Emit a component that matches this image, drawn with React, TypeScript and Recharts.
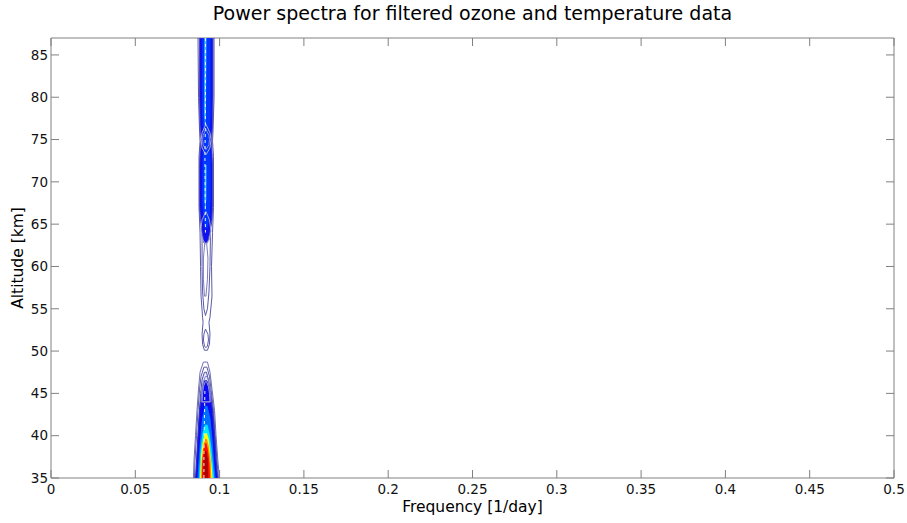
import React from 'react';
import { ScatterChart, Scatter, XAxis, YAxis, Curve } from 'recharts';

// Axis ticks
const xTicks = [0, 0.05, 0.1, 0.15, 0.2, 0.25, 0.3, 0.35, 0.4, 0.45, 0.5];
const yTicks = [35, 40, 45, 50, 55, 60, 65, 70, 75, 80, 85];
const xDomain = [0, 0.5];
const yDomain = [35, 87];

// Contour polygons: [frequency (1/day), altitude (km)]
const upperOutline = [
  [0.0872, 87], [0.0875, 80], [0.0881, 76], [0.0884, 74.8], [0.0878, 73], [0.0878, 67], [0.0884, 64],
  [0.0887, 60], [0.089, 56.5], [0.0899, 54], [0.0902, 53.4], [0.0896, 52], [0.0899, 50.8], [0.091, 50.1],
  [0.0928, 50.1], [0.094, 50.8], [0.0943, 52], [0.0937, 53.4], [0.0943, 54], [0.0955, 56.5], [0.0952, 60],
  [0.0958, 64], [0.0964, 67], [0.0964, 73], [0.0958, 74.8], [0.0961, 76], [0.0967, 80], [0.0967, 87],
];
const midOval = [
  [0.091, 65.5], [0.0896, 64], [0.0896, 60], [0.0899, 57], [0.0907, 55], [0.0916, 54.2], [0.0928, 55],
  [0.0937, 57], [0.0943, 60], [0.0946, 64], [0.0931, 65.5],
];
const innerMidOval = [
  [0.0913, 63], [0.0904, 61], [0.0904, 58.5], [0.091, 56.5], [0.0919, 56.5], [0.0928, 58.5],
  [0.0931, 61], [0.0922, 63],
];
const lowerOval = [
  [0.0916, 52.6], [0.0907, 52], [0.0904, 51.3], [0.091, 50.6], [0.0919, 50.4], [0.0928, 50.6],
  [0.0934, 51.3], [0.0931, 52],
];
const upperBlue = [
  [0.0881, 87], [0.0881, 80], [0.0884, 76.5], [0.089, 75], [0.0884, 73.5], [0.0881, 72], [0.0881, 67],
  [0.0887, 65.5], [0.0896, 64], [0.0907, 62.8], [0.0928, 62.8], [0.0943, 64], [0.0955, 65.5], [0.0958, 67],
  [0.0958, 72], [0.0955, 73.5], [0.0952, 75], [0.0958, 76.5], [0.0961, 80], [0.0961, 87],
];
const upperMidBlue = [
  [0.0896, 87], [0.0896, 78], [0.0902, 76], [0.0899, 72.5], [0.0896, 68], [0.0904, 65.5], [0.0913, 64.5],
  [0.0925, 64.5], [0.094, 65.5], [0.0946, 68], [0.0946, 72.5], [0.094, 76], [0.0946, 78], [0.0946, 87],
];
const upperCyanTop = [[0.091, 87], [0.0909, 78], [0.0913, 76.5], [0.0919, 78], [0.0922, 87]];
const upperCyanMid = [[0.0913, 72], [0.091, 68], [0.0915, 66.5], [0.0921, 68], [0.0922, 72]];
const neckRing1 = [
  [0.0919, 76.8], [0.0896, 75.8], [0.089, 75], [0.0896, 74], [0.0919, 73.2], [0.0943, 74], [0.0949, 75], [0.0943, 75.8],
];
const neckRing2 = [
  [0.0919, 76.2], [0.0902, 75.5], [0.0899, 75], [0.0902, 74.4], [0.0919, 73.8], [0.0937, 74.4], [0.094, 75], [0.0937, 75.5],
];
const baseRing = [
  [0.0919, 66.5], [0.0896, 65.5], [0.0887, 64.2], [0.0899, 63.2], [0.0919, 62.6], [0.094, 63.2], [0.0949, 64.2], [0.094, 65.5],
];
const ridgeUpper = [[0.0916, 87], [0.0916, 77], [0.0913, 73], [0.0916, 64]];

const bottomOutline1 = [
  [0.0904, 48.7], [0.0884, 47.5], [0.0875, 45.5], [0.0866, 43], [0.0857, 40], [0.0848, 37], [0.0845, 35],
  [0.0999, 35], [0.099, 37], [0.0979, 40], [0.097, 43], [0.0955, 45.5], [0.0943, 47.5], [0.0928, 48.7],
];
const bottomOutline2 = [
  [0.0907, 48.1], [0.089, 47], [0.0881, 45.5], [0.0872, 43], [0.0863, 40], [0.0854, 37], [0.0851, 35],
  [0.0993, 35], [0.0985, 37], [0.0973, 40], [0.0964, 43], [0.0949, 45.5], [0.094, 47], [0.0925, 48.1],
];
const bottomOutline3 = [
  [0.091, 47.5], [0.0896, 46.6], [0.0887, 45], [0.0878, 42], [0.0869, 39], [0.0863, 35],
  [0.0985, 35], [0.0976, 39], [0.0964, 42], [0.0946, 45], [0.0934, 46.6], [0.0922, 47.5],
];
const bottomBlue = [
  [0.091, 46.5], [0.0893, 45], [0.0881, 43], [0.0872, 40], [0.0863, 37], [0.0857, 35],
  [0.0988, 35], [0.0979, 37], [0.097, 40], [0.0958, 43], [0.0946, 45], [0.0925, 46.5],
];
const bottomRing4 = [
  [0.0916, 47], [0.0902, 46.3], [0.0893, 45.2], [0.089, 44], [0.0949, 44], [0.0946, 45.2], [0.0937, 46.3], [0.0925, 47],
];
const bottomRing5 = [
  [0.0916, 46.4], [0.0904, 45.8], [0.0899, 45], [0.0896, 44], [0.0943, 44], [0.094, 45], [0.0934, 45.8], [0.0922, 46.4],
];
const bottomLightBlue = [
  [0.0913, 43.5], [0.0896, 42], [0.0884, 39.5], [0.0875, 37], [0.0869, 35],
  [0.0976, 35], [0.0967, 37], [0.0958, 39.5], [0.0946, 42], [0.0928, 43.5],
];
const bottomCyan = [
  [0.0913, 41.3], [0.0899, 40.3], [0.0887, 38.5], [0.0881, 36.5], [0.0878, 35],
  [0.0967, 35], [0.0961, 36.5], [0.0952, 38.5], [0.094, 40.3], [0.0928, 41.3],
];
const bottomYellow = [
  [0.0913, 40.3], [0.0902, 39.5], [0.089, 37.8], [0.0886, 36], [0.0884, 35],
  [0.0958, 35], [0.0955, 36], [0.0946, 37.8], [0.0937, 39.5], [0.0925, 40.3],
];
const bottomOrange = [
  [0.0913, 39.6], [0.0904, 38.8], [0.0894, 37.2], [0.089, 35],
  [0.0951, 35], [0.0946, 37.2], [0.0935, 38.8], [0.0925, 39.6],
];
const bottomRed = [
  [0.0913, 39.1], [0.0904, 38.3], [0.0897, 36.8], [0.0896, 35],
  [0.0943, 35], [0.094, 36.8], [0.0931, 38.3], [0.0922, 39.1],
];
const bottomDarkRed = [
  [0.0913, 38.2], [0.0904, 37.2], [0.0904, 35], [0.0933, 35], [0.0931, 37.2], [0.0922, 38.2],
];
const ridgeLower = [[0.0907, 35], [0.0907, 38], [0.091, 42], [0.0913, 45.5]];

// Styles (kept apart from the data)
const layers = [
  { pts: upperOutline, fill: 'none', stroke: '#5a5aa8', sw: 1, closed: true },
  { pts: midOval, fill: 'none', stroke: '#5a5aa8', sw: 1, closed: true },
  { pts: innerMidOval, fill: 'none', stroke: '#7a7ac0', sw: 1, closed: true },
  { pts: lowerOval, fill: 'none', stroke: '#5a5aa8', sw: 1, closed: true },
  { pts: upperBlue, fill: '#1010f0', stroke: '#4848c0', sw: 1, closed: true },
  { pts: upperMidBlue, fill: '#0038ff', stroke: 'none', sw: 0, closed: true },
  { pts: upperCyanTop, fill: '#50c8ff', stroke: 'none', sw: 0, closed: true },
  { pts: upperCyanMid, fill: '#50c8ff', stroke: 'none', sw: 0, closed: true },
  { pts: neckRing1, fill: 'none', stroke: '#a8a8e0', sw: 1, closed: true },
  { pts: neckRing2, fill: 'none', stroke: '#8c8cd8', sw: 1, closed: true },
  { pts: baseRing, fill: 'none', stroke: '#a0a0dc', sw: 1, closed: true },
  { pts: ridgeUpper, fill: 'none', stroke: '#e8f4ff', sw: 1, closed: false, dash: '3 3' },
  { pts: bottomOutline1, fill: 'none', stroke: '#7070b8', sw: 1, closed: true },
  { pts: bottomOutline2, fill: 'none', stroke: '#5a5aa8', sw: 1, closed: true },
  { pts: bottomOutline3, fill: '#ececf8', stroke: '#4a4aa8', sw: 1, closed: true },
  { pts: bottomBlue, fill: '#0a0af5', stroke: '#3030c0', sw: 1, closed: true },
  { pts: bottomRing4, fill: 'none', stroke: '#8080cc', sw: 1, closed: true },
  { pts: bottomRing5, fill: 'none', stroke: '#9a9ad8', sw: 1, closed: true },
  { pts: bottomLightBlue, fill: '#0070ff', stroke: 'none', sw: 0, closed: true },
  { pts: bottomCyan, fill: '#00e8ff', stroke: 'none', sw: 0, closed: true },
  { pts: bottomYellow, fill: '#ffff00', stroke: 'none', sw: 0, closed: true },
  { pts: bottomOrange, fill: '#ff9000', stroke: 'none', sw: 0, closed: true },
  { pts: bottomRed, fill: '#ff1000', stroke: 'none', sw: 0, closed: true },
  { pts: bottomDarkRed, fill: '#b00000', stroke: 'none', sw: 0, closed: true },
  { pts: ridgeLower, fill: 'none', stroke: '#f0f0ff', sw: 1, closed: false, dash: '3 3' },
];

const toPts = (arr: number[][]) => arr.map(([f, alt]) => ({ f, alt }));

const makeLine = (l: any) => (props: any) => (
  <Curve
    points={props.points}
    type={l.closed ? 'linearClosed' : 'linear'}
    fill={l.fill}
    stroke={l.stroke}
    strokeWidth={l.sw}
    strokeDasharray={l.dash}
  />
);

const FONT = 'DejaVu Sans';
const axisColor = '#808080';
const tickStyle = { fill: '#111', fontSize: 13.5, fontFamily: FONT };

export default function App() {
  return (
    <div style={{ position: 'absolute', left: 0, top: 0, width: 907, height: 523, background: '#fff' }}>
      <ScatterChart width={907} height={523} margin={{ top: 37, right: 12, bottom: 15, left: 11 }}>
        <XAxis
          xAxisId="b"
          type="number"
          dataKey="f"
          domain={xDomain}
          ticks={xTicks}
          interval={0}
          allowDataOverflow
          height={30}
          tickSize={-8}
          tickMargin={14}
          stroke={axisColor}
          tick={tickStyle}
          tickFormatter={(v: number) => String(v)}
        />
        <XAxis
          xAxisId="t"
          orientation="top"
          type="number"
          dataKey="f"
          domain={xDomain}
          ticks={xTicks}
          interval={0}
          allowDataOverflow
          height={1}
          tickSize={-8}
          stroke={axisColor}
          tickFormatter={() => ''}
        />
        <YAxis
          yAxisId="l"
          type="number"
          dataKey="alt"
          domain={yDomain}
          ticks={yTicks}
          interval={0}
          allowDataOverflow
          width={40}
          tickSize={-8}
          tickMargin={11}
          stroke={axisColor}
          tick={tickStyle}
        />
        <YAxis
          yAxisId="r"
          orientation="right"
          type="number"
          dataKey="alt"
          domain={yDomain}
          ticks={yTicks}
          interval={0}
          allowDataOverflow
          width={1}
          tickSize={-8}
          stroke={axisColor}
          tickFormatter={() => ''}
        />
        {layers.map((l, i) => (
          <Scatter
            key={i}
            xAxisId="b"
            yAxisId="l"
            data={toPts(l.pts)}
            line={makeLine(l)}
            lineType="joint"
            shape={() => <g />}
            isAnimationActive={false}
          />
        ))}
      </ScatterChart>
      <div
        style={{
          position: 'absolute', left: 0, width: 945, top: 2, textAlign: 'center',
          fontFamily: FONT, fontSize: 19, lineHeight: '22px', color: '#000', whiteSpace: 'nowrap',
        }}
      >
        Power spectra for filtered ozone and temperature data
      </div>
      <div
        style={{
          position: 'absolute', left: 0, width: 945, top: 498, textAlign: 'center',
          fontFamily: FONT, fontSize: 15.5, lineHeight: '18px', color: '#000', whiteSpace: 'nowrap',
        }}
      >
        Frequency [1/day]
      </div>
      <div
        style={{
          position: 'absolute', left: 18, top: 258, width: 0, height: 0,
        }}
      >
        <div
          style={{
            position: 'absolute', left: -100, top: -9, width: 200, textAlign: 'center',
            transform: 'rotate(-90deg)', fontFamily: FONT, fontSize: 15.5, lineHeight: '18px',
            color: '#000', whiteSpace: 'nowrap',
          }}
        >
          Altitude [km]
        </div>
      </div>
    </div>
  );
}
